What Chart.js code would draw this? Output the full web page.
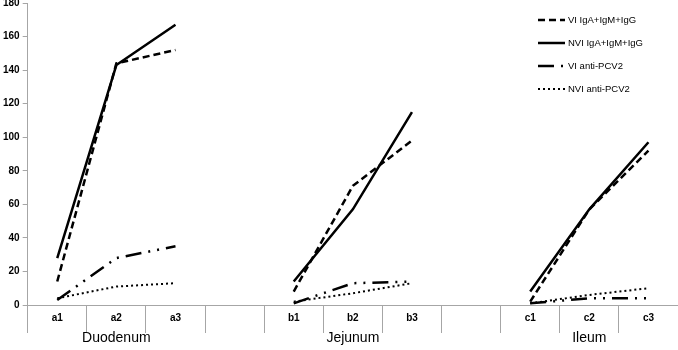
<!DOCTYPE html>
<html>
<head>
<meta charset="utf-8">
<script src="https://cdn.jsdelivr.net/npm/chart.js@4.4.0/dist/chart.umd.min.js"></script>
<style>
  html, body { margin: 0; padding: 0; background: #fff; }
  #wrap { width: 678px; height: 350px; position: relative; }
</style>
</head>
<body>
<div id="wrap"><canvas id="chart"></canvas></div>
<script>
// categories along the x axis (blank slots separate the three gut segments)
const categories = ['a1', 'a2', 'a3', '', 'b1', 'b2', 'b3', '', 'c1', 'c2', 'c3'];
const groupNames = ['Duodenum', 'Jejunum', 'Ileum'];
const groupCenters = [1, 5, 9];
const yTicks = [0, 20, 40, 60, 80, 100, 120, 140, 160, 180];

// series values
const viIg    = [14, 144, 152, null, 8, 71, 98, null, 2, 57, 92];
const nviIg   = [28, 143, 167, null, 14, 57, 115, null, 8, 57, 97];
const viPcv2  = [3, 28, 35, null, 1, 13, 14, null, 1, 4, 4];
const nviPcv2 = [4, 11, 13, null, 2, 7, 13, null, 1, 6, 10];

const axisGrey = '#a6a6a6';

const groupLabels = {
    id: 'groupLabels',
    afterDraw(chart) {
        const ctx = chart.ctx;
        const x = chart.scales.x;
        ctx.save();
        ctx.fillStyle = '#000';
        ctx.font = '14px "Liberation Sans", Arial, sans-serif';
        ctx.textAlign = 'center';
        ctx.textBaseline = 'middle';
        groupNames.forEach((name, i) => {
            ctx.fillText(name, x.getPixelForValue(groupCenters[i]), 338);
        });
        ctx.restore();
    }
};

// legend drawn by hand so it can sit inside the plot, top right
const innerLegend = {
    id: 'innerLegend',
    afterDraw(chart) {
        const ctx = chart.ctx;
        ctx.save();
        ctx.font = '9.5px "Liberation Sans", Arial, sans-serif';
        ctx.textBaseline = 'middle';
        ctx.fillStyle = '#000';
        chart.data.datasets.forEach((ds, i) => {
            const y = 20 + i * 23;
            ctx.beginPath();
            ctx.strokeStyle = ds.borderColor;
            ctx.lineWidth = ds.borderWidth;
            ctx.setLineDash(ds.borderDash || []);
            ctx.moveTo(538, y);
            ctx.lineTo(565, y);
            ctx.stroke();
            ctx.setLineDash([]);
            ctx.fillText(ds.label, 568, y);
        });
        ctx.restore();
    }
};

const ctx = document.getElementById('chart').getContext('2d');
new Chart(ctx, {
    type: 'line',
    data: {
        labels: categories,
        datasets: [{
            label: 'VI IgA+IgM+IgG',
            data: viIg,
            borderColor: '#000',
            borderWidth: 2.5,
            borderDash: [7, 4],
        }, {
            label: 'NVI IgA+IgM+IgG',
            data: nviIg,
            borderColor: '#000',
            borderWidth: 2.5,
        }, {
            label: 'VI anti-PCV2',
            data: viPcv2,
            borderColor: '#000',
            borderWidth: 2.5,
            borderDash: [16, 7, 2, 7, 2, 7],
        }, {
            label: 'NVI anti-PCV2',
            data: nviPcv2,
            borderColor: '#000',
            borderWidth: 2,
            borderDash: [2, 3],
        }]
    },
    options: {
        responsive: true,
        maintainAspectRatio: false,
        animation: false,
        spanGaps: false,
        elements: {
            point: { radius: 0 },
            line: { tension: 0, borderCapStyle: 'butt' }
        },
        layout: { padding: 0 },
        plugins: {
            legend: { display: false },
            tooltip: { enabled: false }
        },
        scales: {
            x: {
                offset: true,
                afterFit(axis) {
                    axis.height = 45;
                },
                grid: {
                    offset: true,
                    drawOnChartArea: false,
                    tickLength: 28,
                    color: axisGrey,
                },
                border: { color: axisGrey },
                ticks: {
                    color: '#000',
                    padding: -21,
                    maxRotation: 0,
                    autoSkip: false,
                    font: { family: '"Liberation Sans", Arial, sans-serif', size: 10, weight: 'bold' }
                }
            },
            y: {
                min: 0,
                max: 180,
                afterBuildTicks(axis) {
                    axis.ticks = yTicks.map(v => ({ value: v }));
                },
                afterFit(axis) {
                    // let the top label run off the edge a little, as in the original
                    axis.paddingTop = 3;
                },
                grid: {
                    drawOnChartArea: false,
                    tickLength: 5,
                    color: axisGrey,
                },
                border: { color: axisGrey },
                ticks: {
                    color: '#000',
                    padding: 3,
                    font: { family: '"Liberation Sans", Arial, sans-serif', size: 10, weight: 'bold' }
                }
            }
        }
    },
    plugins: [groupLabels, innerLegend]
});
</script>
</body>
</html>
